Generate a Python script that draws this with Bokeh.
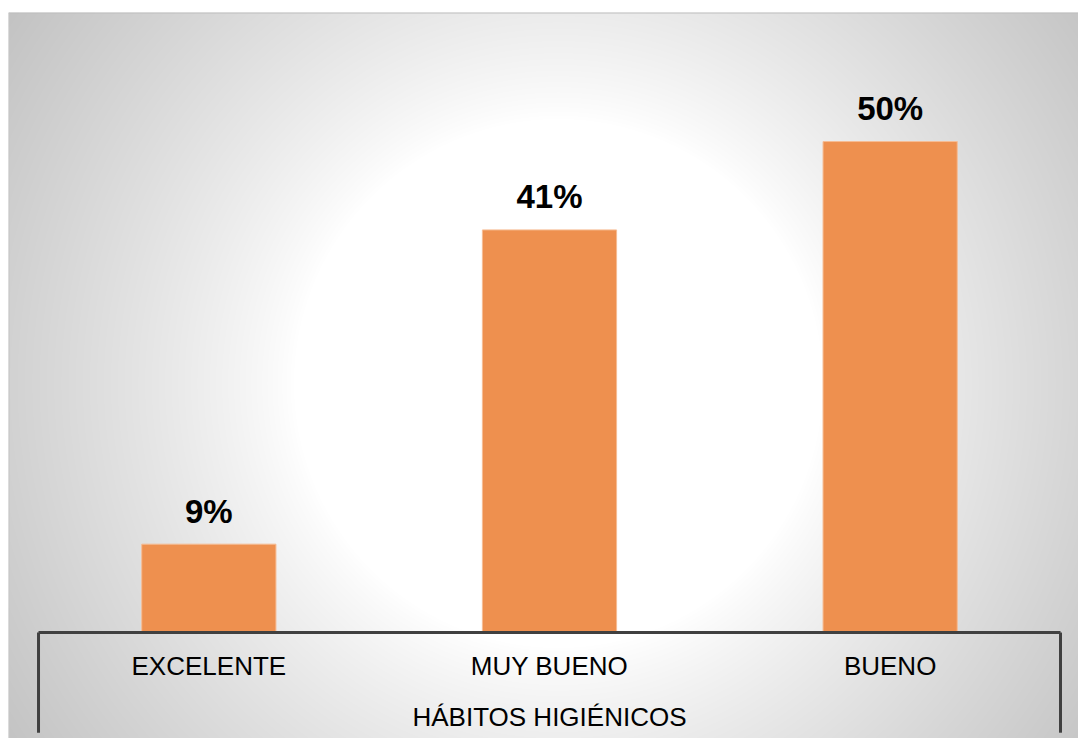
import numpy as np
from bokeh.plotting import figure
from bokeh.models import Range1d, LinearAxis, FixedTicker, ColumnDataSource, Span
from bokeh.core.properties import value
from bokeh.embed import file_html
from bokeh.resources import INLINE

# ---- data ----
categories = ["EXCELENTE", "MUY BUENO", "BUENO"]
percentages = [9, 41, 50]
value_labels = ["9%", "41%", "50%"]
group_label = "HÁBITOS HIGIÉNICOS"

# ---- layout / style constants ----
W, H = 1078, 738
LEFT_PAD, TOP_PAD = 8, 12
FRAME_W, FRAME_H = W - LEFT_PAD, H - TOP_PAD
X_START, X_END = -0.0881, 3.0529
Y_START, Y_END = -10.79, 63.14
BAR_W = 0.394
SEP_DEPTH = 10.2
BAR_COLOR = "#EE904F"
AXIS_COLOR = "#404040"
FONT = "Liberation Sans"

n = len(categories)
centers = [i + 0.5 for i in range(n)]

p = figure(width=W, height=H, output_backend="svg", toolbar_location=None,
           x_range=Range1d(X_START, X_END), y_range=Range1d(Y_START, Y_END),
           x_axis_type=None, y_axis_type=None,
           min_border_left=LEFT_PAD, min_border_right=0, min_border_bottom=0,
           min_border_top=TOP_PAD, border_fill_color="white")
p.grid.visible = False
p.outline_line_color = None

# radial gradient background (styling only)
rows = np.arange(FRAME_H) + 0.5
cols = np.arange(FRAME_W) + 0.5
py = (TOP_PAD + FRAME_H) - rows          # canvas y, row 0 at bottom
px = LEFT_PAD + cols
R = np.hypot(px[None, :] - 558.0, py[:, None] - 383.0)
t = np.clip((R - 265.0) / 398.0, 0, None)
v = np.clip(255 - 60 * t ** 0.85, 0, 255).astype(np.uint8)
img = np.empty((FRAME_H, FRAME_W), dtype=np.uint32)
view = img.view(dtype=np.uint8).reshape((FRAME_H, FRAME_W, 4))
view[..., 0] = v
view[..., 1] = v
view[..., 2] = v
view[..., 3] = 255
p.image_rgba(image=[img], x=X_START, y=Y_START, dw=X_END - X_START, dh=Y_END - Y_START,
             level="image")

# thin darker edges along the top and left of the chart area
p.add_layout(Span(location=Y_END, dimension="width", line_color="#bdbdbd", line_width=2))
p.add_layout(Span(location=X_START, dimension="height", line_color="#c6c6c6", line_width=2))

src = ColumnDataSource(dict(x=centers, top=percentages, lab=value_labels, cat=categories))
p.vbar(x="x", top="top", bottom=0, width=BAR_W, source=src,
       fill_color=BAR_COLOR, line_color="#F6BC94", line_width=1)

p.text(x="x", y="top", text="lab", source=src, text_align="center",
       text_baseline="alphabetic", y_offset=-33,
       text_font=value(FONT), text_font_style="bold", text_font_size="33px",
       text_color="black")

# category separators at the ends of the axis
bounds = [0, n]
p.segment(x0=bounds, y0=[0, 0], x1=bounds, y1=[-SEP_DEPTH, -SEP_DEPTH],
          line_color=AXIS_COLOR, line_width=3)

ax = LinearAxis(fixed_location=0, bounds=(0, n),
                ticker=FixedTicker(ticks=centers),
                major_label_overrides={c: cat for c, cat in zip(centers, categories)},
                major_tick_line_color=None, minor_tick_line_color=None,
                major_tick_out=0, major_tick_in=0,
                axis_line_color=AXIS_COLOR, axis_line_width=3,
                major_label_text_font=FONT, major_label_text_font_size="26px",
                major_label_text_color="black", major_label_standoff=18,
                axis_label=group_label, axis_label_text_font=FONT,
                axis_label_text_font_size="26px", axis_label_text_font_style="normal",
                axis_label_text_color="black", axis_label_standoff=18)
p.add_layout(ax, "below")

open("out.html", "w").write(file_html(p, INLINE))
